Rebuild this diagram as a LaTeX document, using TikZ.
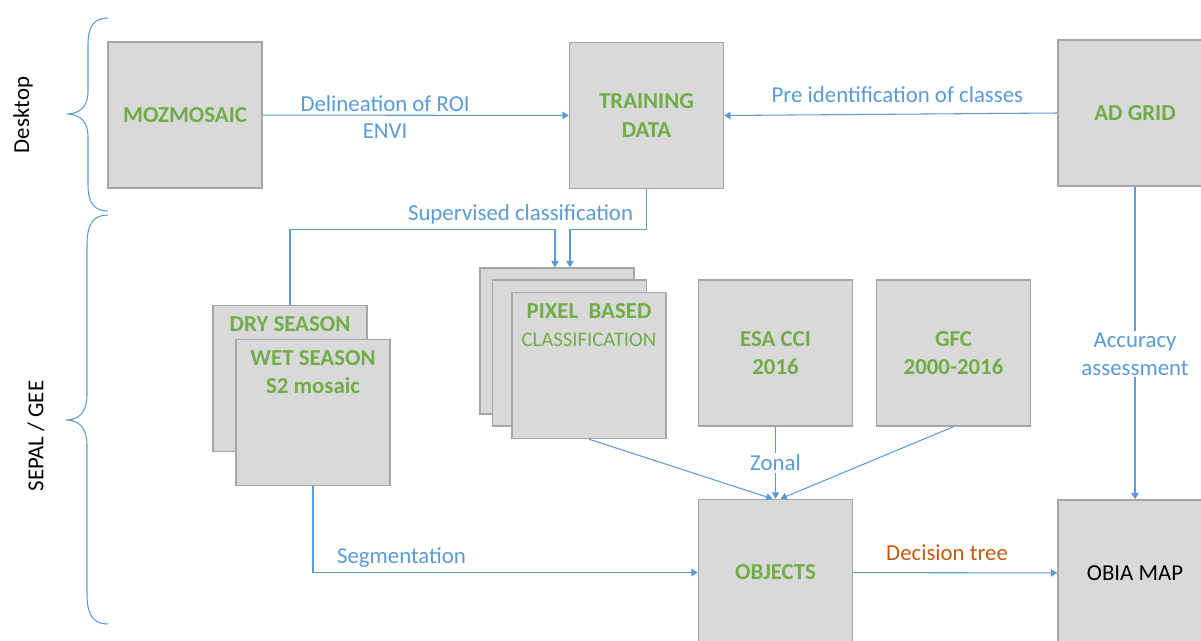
\documentclass[tikz,border=0pt]{standalone}
\usepackage{xcolor}
\usepackage{fontspec}
\setmainfont{Carlito}
\usepackage{tikz}
\usetikzlibrary{positioning,arrows.meta,calc}
\definecolor{boxfill}{RGB}{217,217,217}
\definecolor{boxline}{RGB}{166,166,166}
\definecolor{leaf}{RGB}{112,173,71}
\definecolor{sky}{RGB}{91,155,213}
\definecolor{rust}{RGB}{197,90,17}

\tikzset{
  box/.style={draw=boxline,fill=boxfill,line width=0.8pt,inner sep=2pt,
              minimum width=3.08cm,minimum height=2.92cm,align=center,
              text=leaf,font=\fontsize{13}{16}\selectfont\bfseries},
  toptext/.style={anchor=north,yshift=-3pt,align=center,text=leaf,
              font=\fontsize{13}{16}\selectfont},
  flow/.style={draw=sky,line width=0.6pt,-{Triangle[length=3.6pt,width=4.2pt]}},
  lbl/.style={text=sky,font=\fontsize{13}{16}\selectfont},
  brace/.style={draw=sky,line width=0.6pt},
  side/.style={rotate=90,font=\fontsize{13}{16}\selectfont}
}

\begin{document}
\begin{tikzpicture}[x=0.02cm,y=-0.02cm]
  \useasboundingbox (0,0) rectangle (1201,640);
  \clip (0,0) rectangle (1201,640);

  % desktop part
  \node[box] (moz) at (185,115) {MOZMOSAIC};
  \node[box] (train) at (646.5,115.5) {TRAINING\\DATA};
  \node[box] (adgrid) at (1135,113) {AD GRID};

  % sepal / gee part
  \node[box] (pixA) at (557,341) {};
  \node[box] (pixB) at (569.5,353) {};
  \node[box,label={[toptext]north:{\textbf{PIXEL\ \ BASED}\\{\fontsize{11.8}{14}\selectfont CLASSIFICATION}}}] (pix) at (589,365.5) {};
  \node[box,label={[toptext]north:{\textbf{DRY SEASON}}}] (dry) at (290,378.5) {};
  \node[box,label={[toptext]north:{\textbf{WET SEASON}\\\textbf{S2 mosaic}}}] (wet) at (313,412.5) {};
  \node[box] (esa) at (775.5,353) {ESA CCI\\2016};
  \node[box] (gfc) at (953.5,353) {GFC\\2000-2016};
  \node[box] (obj) at (775.5,572.5) {OBJECTS};
  \node[box,text=black,font=\fontsize{13}{16}\selectfont] (obia) at (1135,573) {OBIA MAP};

  \coordinate (pinL) at ($(pixA.north)+(-2,0)$);
  \coordinate (pinR) at ($(pixA.north)+(13,0)$);
  \coordinate (inL) at ($(obj.north)+(-3,0)$);
  \coordinate (inR) at ($(obj.north)+(5,0)$);

  % connectors
  \draw[flow] (moz) -- node[lbl,pos=0.4,above,inner sep=2pt]{Delineation of ROI}
                       node[lbl,pos=0.4,below,inner sep=4.5pt]{ENVI} (train);
  \draw[flow] (adgrid.west) -- node[lbl,above,pos=0.48,inner sep=6.5pt]{Pre identification of classes} (train.east);
  \draw[flow] (train.south) |- ($(pinR)+(0,-38)$) -- (pinR);
  \draw[flow] (dry.north) |- node[lbl,above,pos=0.935,inner sep=2.5pt]{Supervised classification}
                             ($(pinL)+(0,-38)$) -- (pinL);
  \draw[flow] (pix.south) -- (inL);
  \draw[flow] (esa) -- node[lbl,fill=white,inner sep=1pt]{Zonal} (obj);
  \draw[flow] (gfc.south) -- (inR);
  \draw[flow] (wet.south) |- node[lbl,above,pos=0.615,inner sep=2.5pt]{Segmentation} (obj.west);
  \draw[flow] (obj) -- node[lbl,above,pos=0.46,inner sep=6.5pt,text=rust]{Decision tree} (obia);
  \draw[flow] (adgrid) -- node[lbl,fill=white,align=center,pos=0.535,inner sep=1pt]{Accuracy\\assessment} (obia);

  % braces
  \draw[brace] (108,18) .. controls (94,18) and (88,26) .. (88,45) -- (88,92)
    .. controls (88,106) and (80,114) .. (67,114)
    .. controls (80,114) and (88,122) .. (88,136) -- (88,184)
    .. controls (88,203) and (94,211) .. (108,211);
  \draw[brace] (108,215) .. controls (94,215) and (87,223) .. (87,245) -- (87,395)
    .. controls (87,412) and (79,420) .. (66,420)
    .. controls (79,420) and (87,428) .. (87,445) -- (87,594)
    .. controls (87,616) and (94,624) .. (108,624);
  \node[side] (desk) at (23,115) {Desktop};
  \node[side] (sepal) at (36,436) {SEPAL / GEE};
\end{tikzpicture}
\end{document}
